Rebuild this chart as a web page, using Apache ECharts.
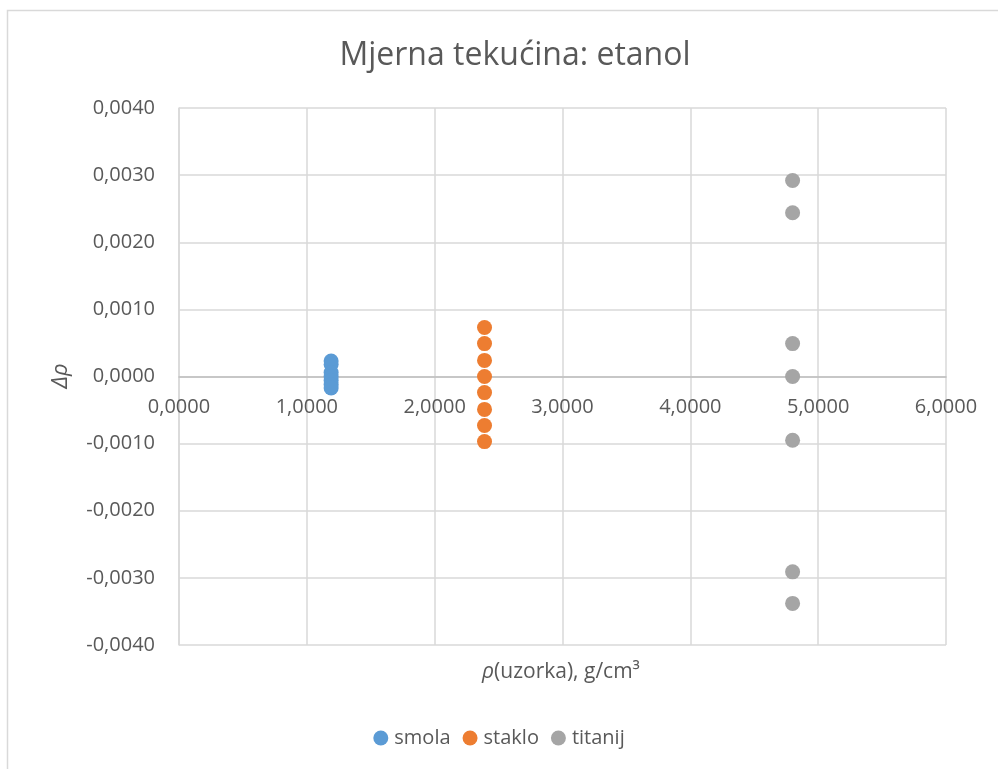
<!DOCTYPE html>
<html>
<head>
<meta charset="utf-8">
<script src="https://cdn.jsdelivr.net/npm/echarts@6/dist/echarts.min.js"></script>
<style>
html,body{margin:0;padding:0;background:#fff;}
#main{width:998px;height:769px;}
</style>
</head>
<body>
<div id="main"></div>
<script>
var seriesNames = ['smola', 'staklo', 'titanij'];
var seriesColors = ['#5b9bd5', '#ed7d31', '#a5a5a5'];
var smolaX = 1.19;
var smolaY = [0.00023, 0.00018, 0.00006, 0.0, -0.00006, -0.00012, -0.00017];
var stakloX = 2.39;
var stakloY = [0.00073, 0.00049, 0.00024, 0.0, -0.00024, -0.00049, -0.00073, -0.00097];
var titanijX = 4.80;
var titanijY = [0.00292, 0.00244, 0.00049, 0.0, -0.00095, -0.00291, -0.00338];

function pairs(x, ys) { return ys.map(function (y) { return [x, y]; }); }
var dataSets = [pairs(smolaX, smolaY), pairs(stakloX, stakloY), pairs(titanijX, titanijY)];

var chart = echarts.init(document.getElementById('main'));
var fontFam = '"Open Sans", "Liberation Sans", sans-serif';
var txt = '#595959';
var gridTop = 108, gridBottom = 124, H = 769;
var zeroOffset = -((H - gridBottom) - gridTop) / 2;

function fmt(v) {
  return v.toFixed(4).replace('.', ',');
}

chart.setOption({
  animation: false,
  backgroundColor: '#fff',
  textStyle: { fontFamily: fontFam },
  title: {
    text: 'Mjerna tekućina: etanol',
    left: 510,
    top: 35,
    textAlign: 'center',
    textStyle: { fontFamily: fontFam, fontSize: 32, fontWeight: 'normal', color: txt }
  },
  legend: {
    bottom: 16,
    left: 'center',
    icon: 'circle',
    itemWidth: 15,
    itemHeight: 15,
    itemGap: 12,
    data: seriesNames,
    textStyle: { fontFamily: fontFam, fontSize: 20, color: txt, padding: [0, 0, 0, 1] }
  },
  grid: { left: 179, right: 52, top: gridTop, bottom: gridBottom },
  xAxis: {
    type: 'value',
    min: 0,
    max: 6,
    interval: 1,
    offset: zeroOffset,
    axisLine: { show: true, onZero: false, lineStyle: { color: '#bfbfbf', width: 1.5 } },
    axisTick: { show: false },
    axisLabel: { formatter: fmt, fontFamily: fontFam, fontSize: 20, color: txt, margin: 21 },
    splitLine: { show: true, lineStyle: { color: '#d9d9d9', width: 1.5 } }
  },
  yAxis: {
    type: 'value',
    min: -0.004,
    max: 0.004,
    interval: 0.001,
    axisLine: { show: true, lineStyle: { color: '#d9d9d9', width: 1.5 } },
    axisTick: { show: false },
    axisLabel: { formatter: fmt, fontFamily: fontFam, fontSize: 20, color: txt, margin: 24 },
    splitLine: { show: true, lineStyle: { color: '#d9d9d9', width: 1.5 } }
  },
  graphic: [
    {
      type: 'rect',
      shape: { x: 7.5, y: 10.5, width: 1000, height: 800 },
      style: { fill: 'none', stroke: '#d9d9d9', lineWidth: 1.5 },
      silent: true, z: -1
    },
    {
      type: 'text',
      x: 561, y: 672,
      style: {
        text: '{i|ρ}(uzorka), g/cm³',
        rich: { i: { fontStyle: 'italic', fontFamily: fontFam, fontSize: 21, fill: txt, color: txt } },
        fontFamily: fontFam, fontSize: 21, fill: txt,
        align: 'center', verticalAlign: 'middle'
      }
    },
    {
      type: 'text',
      x: 61, y: 376,
      rotation: Math.PI / 2,
      style: {
        text: 'Δρ',
        fontFamily: fontFam, fontSize: 22, fontStyle: 'italic', fill: txt,
        align: 'center', verticalAlign: 'middle'
      }
    }
  ],
  series: seriesNames.map(function (n, i) {
    return {
      name: n,
      type: 'scatter',
      symbol: 'circle',
      symbolSize: 15,
      itemStyle: { color: seriesColors[i], opacity: 1 },
      data: dataSets[i]
    };
  })
});
</script>
</body>
</html>
